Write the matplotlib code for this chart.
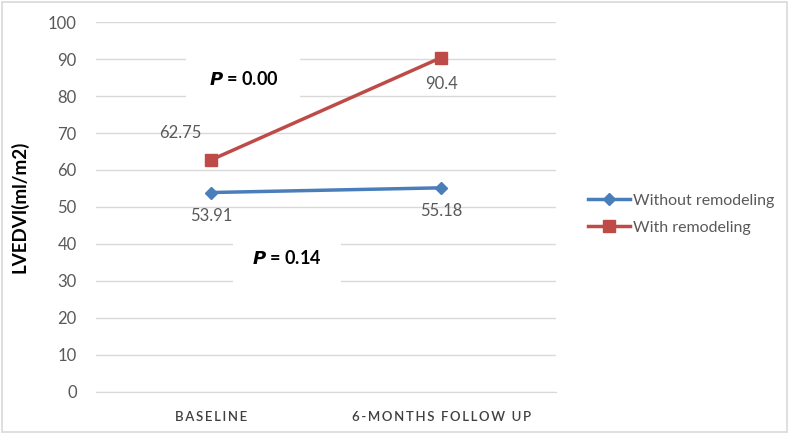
import matplotlib.pyplot as plt
from matplotlib.patches import Rectangle

categories = ["BASELINE", "6-MONTHS FOLLOW UP"]
without_remodeling = [53.91, 55.18]
with_remodeling = [62.75, 90.4]
without_labels = ["53.91", "55.18"]
with_labels = ["62.75", "90.4"]

plt.rcParams['font.family'] = ['Lato', 'DejaVu Sans']
grey = "#595959"
blue = "#4a7ebb"
red = "#be4b48"

fig = plt.figure(figsize=(7.89, 4.33), dpi=100)
ax = fig.add_axes([0.122, 0.095, 0.583, 0.854])

x = [0, 1]
ax.plot(x, without_remodeling, color=blue, lw=2.5, marker="D", ms=6,
        label="Without remodeling", zorder=4)
ax.plot(x, with_remodeling, color=red, lw=2.5, marker="s", ms=8,
        label="With remodeling", zorder=4)

ax.set_xlim(-0.5, 1.5)
ax.set_ylim(0, 100)
ax.set_yticks(range(0, 101, 10))
ax.yaxis.grid(True, color="#d9d9d9", lw=1)
ax.set_axisbelow(True)
for s in ["top", "right", "left"]:
    ax.spines[s].set_visible(False)
ax.spines["bottom"].set_color("#d9d9d9")
ax.tick_params(length=0, colors=grey, labelsize=12)
ax.set_xticks(x)
# spread the letters a little, like the original category labels
spaced = ["\u2009".join(list(c)).replace("\u2009 \u2009", "  ") for c in categories]
ax.set_xticklabels(spaced, fontsize=9.5, color="#404040", fontweight="semibold")
ax.tick_params(axis="x", pad=14)
ax.tick_params(axis="y", pad=14)
ax.set_ylabel("LVEDVI(ml/m2)", fontsize=13.5, fontweight="bold", labelpad=14,
              color="black")

# data labels
ax.annotate(with_labels[0], (0, with_remodeling[0]), xytext=(-22, 19),
            textcoords="offset points", ha="center", va="center",
            color=grey, fontsize=12)
ax.annotate(with_labels[1], (1, with_remodeling[1]), xytext=(0, -19),
            textcoords="offset points", ha="center", va="center",
            color=grey, fontsize=12)
ax.annotate(without_labels[0], (0, without_remodeling[0]), xytext=(0, -17),
            textcoords="offset points", ha="center", va="center",
            color=grey, fontsize=12)
ax.annotate(without_labels[1], (1, without_remodeling[1]), xytext=(0, -17),
            textcoords="offset points", ha="center", va="center",
            color=grey, fontsize=12)

# p-value boxes
ax.text(0.14, 84.6, r"$\bfit{P}$ = 0.00", ha="center", va="center",
        fontsize=13, fontweight="bold", zorder=3,
        bbox=dict(facecolor="white", edgecolor="none", pad=16))
ax.text(0.33, 36.2, r"$\bfit{P}$ = 0.14", ha="center", va="center",
        fontsize=13, fontweight="bold", zorder=3,
        bbox=dict(facecolor="white", edgecolor="none", pad=14))

leg = fig.legend(loc="center left", bbox_to_anchor=(0.727, 0.505),
                 frameon=False, fontsize=11.5, handlelength=2.6,
                 labelspacing=0.8, handletextpad=0.2)
for t in leg.get_texts():
    t.set_color(grey)

fig.patches.append(Rectangle((0.002, 0.003), 0.995, 0.993, transform=fig.transFigure,
                             fill=False, edgecolor="#d9d9d9", lw=1.2))

fig.savefig("out.png", dpi=100)
